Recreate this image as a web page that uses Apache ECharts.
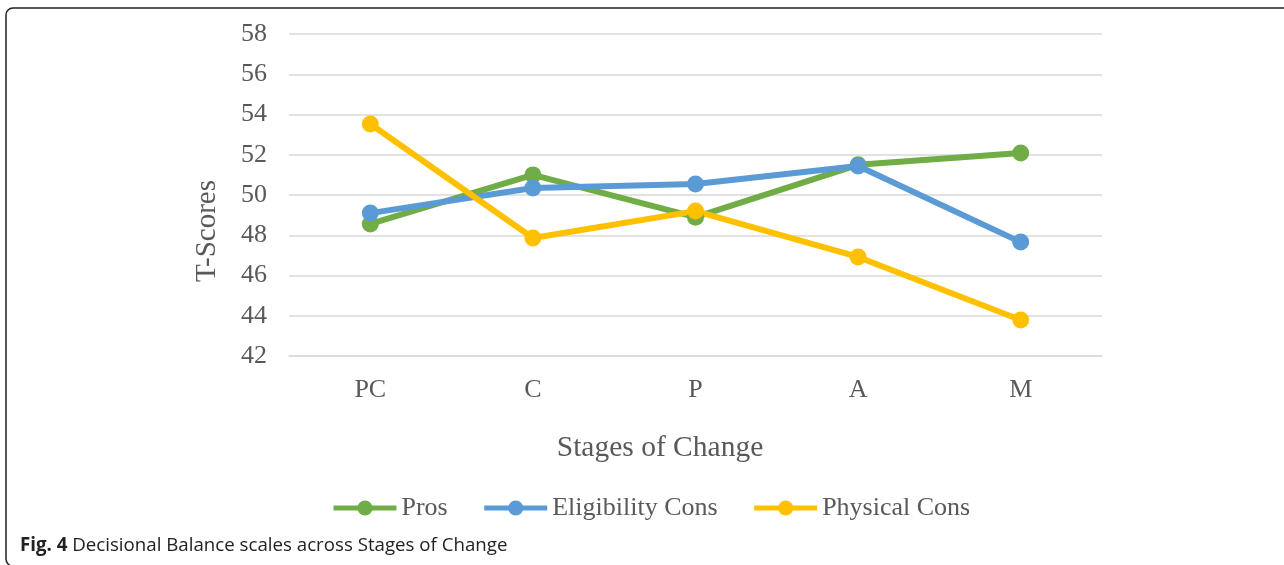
<!DOCTYPE html>
<html>
<head>
<meta charset="utf-8">
<script src="https://cdn.jsdelivr.net/npm/echarts@6/dist/echarts.min.js"></script>
<style>
html,body{margin:0;padding:0;background:#fff;}
#chart{width:1284px;height:565px;}
</style>
</head>
<body>
<div id="chart"></div>
<script>
const categories = ['PC', 'C', 'P', 'A', 'M'];
const pros = [48.56, 51.0, 48.9, 51.5, 52.09];
const eligibilityCons = [49.1, 50.35, 50.55, 51.44, 47.66];
const physicalCons = [53.53, 47.86, 49.2, 46.92, 43.79];
const seriesNames = ['Pros', 'Eligibility Cons', 'Physical Cons'];
const colors = ['#70ad47', '#5b9bd5', '#ffc000'];
const yMin = 42, yMax = 58, yStep = 2;

const serif = '"Liberation Serif", "DejaVu Serif", serif';
const textColor = '#595959';

const chart = echarts.init(document.getElementById('chart'), null, {renderer: 'canvas'});

function mkSeries(name, data, color) {
  return {
    name: name,
    type: 'line',
    data: data,
    symbol: 'circle',
    symbolSize: 17,
    color: color,
    lineStyle: {width: 6, color: color},
    itemStyle: {color: color},
    emphasis: {disabled: true},
    animation: false
  };
}

chart.setOption({
  animation: false,
  grid: {left: 289, right: 182, top: 34, bottom: 209, containLabel: false},
  xAxis: {
    type: 'category',
    data: categories,
    boundaryGap: true,
    axisLine: {show: true, lineStyle: {color: '#d9d9d9', width: 1.5}},
    axisTick: {show: false},
    axisLabel: {fontFamily: serif, fontSize: 26, color: textColor, margin: 21}
  },
  yAxis: {
    type: 'value',
    min: yMin, max: yMax, interval: yStep,
    axisLine: {show: false},
    axisTick: {show: false},
    splitLine: {lineStyle: {color: '#d9d9d9', width: 1.5}},
    axisLabel: {fontFamily: serif, fontSize: 26, color: textColor, margin: 22}
  },
  legend: {
    data: seriesNames,
    left: 326,
    top: 490,
    itemWidth: 63,
    itemHeight: 19,
    itemGap: 34,
    lineStyle: {width: 5},
    textStyle: {fontFamily: serif, fontSize: 26, color: textColor}
  },
  series: [
    mkSeries(seriesNames[0], pros, colors[0]),
    mkSeries(seriesNames[1], eligibilityCons, colors[1]),
    mkSeries(seriesNames[2], physicalCons, colors[2])
  ],
  graphic: [
    {
      type: 'rect',
      shape: {x: 6, y: 8, width: 1400, height: 558, r: 7},
      style: {fill: 'none', stroke: '#222', lineWidth: 1.5},
      silent: true
    },
    {
      type: 'text',
      x: 660, y: 448,
      style: {text: 'Stages of Change', font: '29.5px ' + serif, fill: textColor, align: 'center', verticalAlign: 'middle'}
    },
    {
      type: 'text',
      x: 207, y: 231,
      rotation: Math.PI / 2,
      style: {text: 'T-Scores', font: '29px ' + serif, fill: textColor, align: 'center', verticalAlign: 'middle'}
    },
    {
      type: 'text',
      x: 20, y: 546,
      style: {
        text: '{b|Fig. 4} Decisional Balance scales across Stages of Change',
        verticalAlign: 'middle',
        font: '18.7px "Open Sans", "Noto Sans", sans-serif',
        fill: '#222',
        rich: {
          b: {fontWeight: 'bold', fontSize: 18.7, fontFamily: '"Open Sans", "Noto Sans", sans-serif', fill: '#222'}
        }
      }
    }
  ]
});
</script>
</body>
</html>
